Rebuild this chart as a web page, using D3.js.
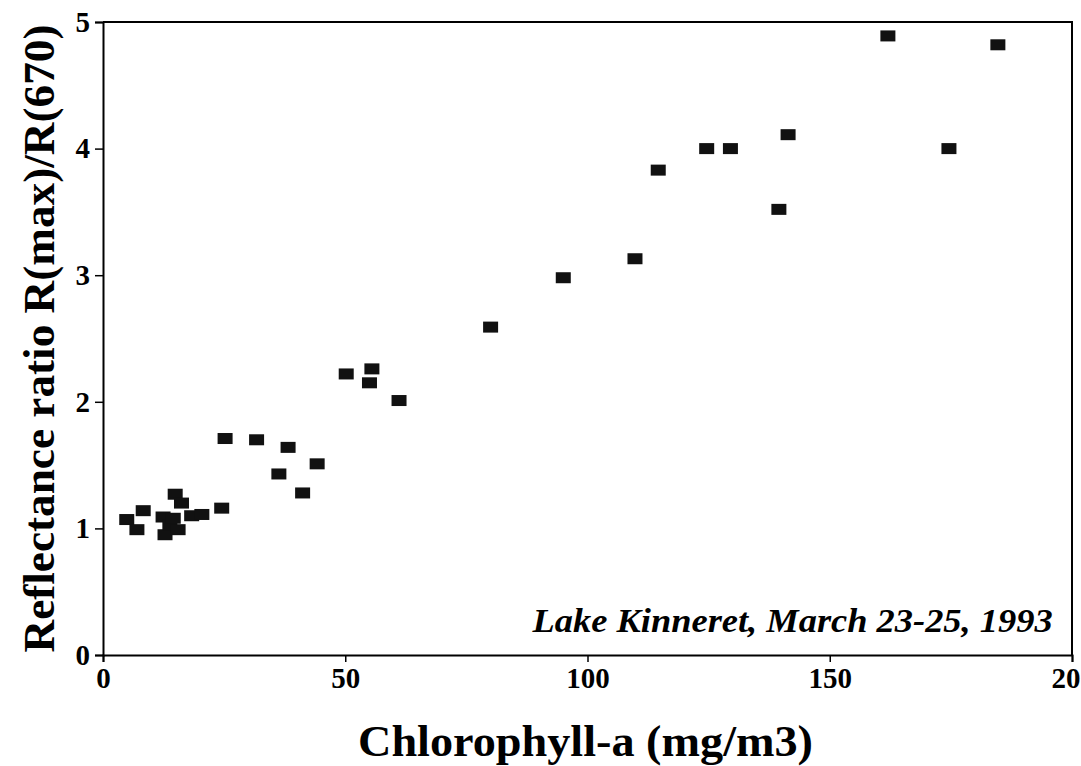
<!DOCTYPE html>
<html>
<head>
<meta charset="utf-8">
<script src="https://cdn.jsdelivr.net/npm/d3@7"></script>
<style>
  body { margin: 0; background: #fff; }
  svg { display: block; }
  text { font-family: 'Liberation Serif', 'Times New Roman', serif; font-weight: bold; fill: #000; }
</style>
</head>
<body>
<svg id="chart"></svg>
<script>
// chlorophyll-a (mg/m3)
const chl = [
  4.9, 7.0, 8.3, 12.4, 12.8, 13.8, 14.5, 14.9, 15.5, 16.2, 18.3, 20.4, 24.5,
  25.2, 31.7, 36.3, 38.2, 41.2, 44.2, 50.2, 55.0, 55.5, 61.1, 80.0, 95.0,
  109.8, 114.6, 124.6, 129.5, 139.5, 141.4, 162.0, 174.6, 184.7
]
// reflectance ratio R(max)/R(670)
const ratio = [
  1.07, 0.99, 1.14, 1.09, 0.95, 1.03, 1.08, 1.27, 0.99, 1.20, 1.10, 1.11, 1.16,
  1.71, 1.70, 1.43, 1.64, 1.28, 1.51, 2.22, 2.15, 2.26, 2.01, 2.59, 2.98,
  3.13, 3.83, 4.00, 4.00, 3.52, 4.11, 4.89, 4.00, 4.82
]
const xTicks = [0, 50, 100, 150, 200]
const xTickLabels = ['0', '50', '100', '150', '20']
const yTicks = [0, 1, 2, 3, 4, 5]

const W = 1081, H = 766
const margin = { top: 22, right: 9, bottom: 111, left: 103 },
  width = W - margin.left - margin.right,
  height = H - margin.top - margin.bottom

const svg = d3.select('#chart').attr('width', W).attr('height', H)
const g = svg.append('g').attr('transform', `translate(${margin.left},${margin.top})`)

const x = d3.scaleLinear().domain([0, 200]).range([0, width])
const y = d3.scaleLinear().domain([0, 5]).range([height, 0])

// frame (top and right)
g.append('path')
  .attr('d', `M0,0H${width}V${height}`)
  .attr('fill', 'none')
  .attr('stroke', '#000')
  .attr('stroke-width', 2)

const xAxis = d3.axisBottom(x)
  .tickValues(xTicks)
  .tickSize(7)
  .tickPadding(5)
  .tickFormat((d, i) => xTickLabels[i])

const gx = g.append('g')
  .attr('transform', `translate(0,${height})`)
  .call(xAxis)
gx.select('.domain').attr('stroke-width', 2)
gx.selectAll('.tick line').attr('stroke-width', 1.5)
gx.selectAll('.tick text')
  .style('font-size', '29px')
  .style('font-family', "'Liberation Serif', serif")
  .style('font-weight', 'bold')
gx.selectAll('.tick text').filter((d) => d === 200).attr('text-anchor', 'end').attr('dx', 8)

const yAxis = d3.axisLeft(y)
  .tickValues(yTicks)
  .tickSize(8)
  .tickPadding(5)
  .tickFormat(d3.format('d'))

const gy = g.append('g').call(yAxis)
gy.select('.domain').attr('stroke-width', 2)
gy.selectAll('.tick line').attr('stroke-width', 1.5)
gy.selectAll('.tick text')
  .style('font-size', '29px')
  .style('font-family', "'Liberation Serif', serif")
  .style('font-weight', 'bold')

// points
const pts = chl.map((c, i) => ({ c: c, r: ratio[i] }))
g.selectAll('rect.pt')
  .data(pts)
  .enter()
  .append('rect')
  .attr('class', 'pt')
  .attr('x', (d) => x(d.c) - 7.5)
  .attr('y', (d) => y(d.r) - 5.5)
  .attr('width', 15)
  .attr('height', 11)
  .attr('fill', '#111')

// annotation
g.append('text')
  .attr('x', x(196))
  .attr('y', y(0.18))
  .attr('text-anchor', 'end')
  .attr('textLength', 520)
  .attr('lengthAdjust', 'spacingAndGlyphs')
  .style('font-size', '33px')
  .style('font-style', 'italic')
  .text('Lake Kinneret, March 23-25, 1993')

// axis titles
svg.append('text')
  .attr('x', margin.left + x(100) - 2)
  .attr('y', 756)
  .attr('text-anchor', 'middle')
  .attr('textLength', 455)
  .attr('lengthAdjust', 'spacingAndGlyphs')
  .style('font-size', '45px')
  .text('Chlorophyll-a (mg/m3)')

svg.append('text')
  .attr('transform', `translate(54,${margin.top + height / 2}) rotate(-90)`)
  .attr('text-anchor', 'middle')
  .attr('textLength', 628)
  .attr('lengthAdjust', 'spacingAndGlyphs')
  .style('font-size', '45px')
  .text('Reflectance ratio R(max)/R(670)')
</script>
</body>
</html>
